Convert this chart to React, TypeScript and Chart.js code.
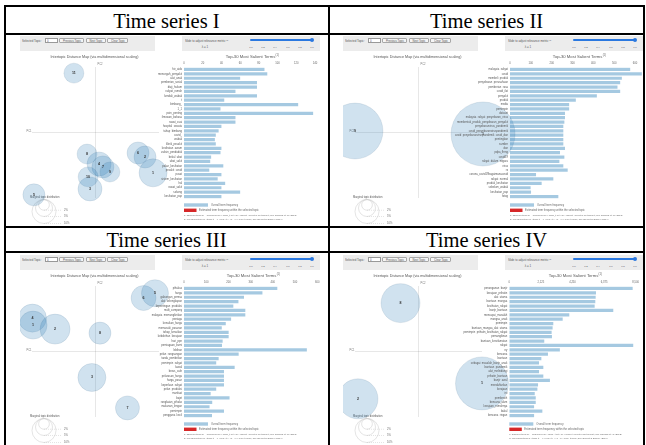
import React, { useEffect, useRef } from 'react';
import { Chart, registerables } from 'chart.js';

Chart.register(...registerables);

const SANS = "'Liberation Sans', Arial, Helvetica, sans-serif";
const SERIF = "'Liberation Serif', 'Times New Roman', Times, serif";

// ---------------- Time series I ----------------
const terms1 = ['hiv_aids', 'mencegah_penyakit', 'alat_anak', 'pemberian_sosial', 'diuji_hukum', 'rakyat_rumah', 'kendali_wabak', 't', 'bimbang_', '1_1', 'poin_penting', 'ilmuwan_bahasa', 'rawat_cuai', 'hospital_swasta', 'tahap_bimbang', 'covid_', 'wabak', 'klinik_pesakit', 'kesihatan_awam', 'vaksin_penduduk', 'bekal_ubat', 'ubat_sakit', 'pakar_kesihatan', 'pesakit_covid', 'pusat', 'sistem_kesihatan', 'hal', 'rawat_sakit', 'sokong', 'kesihatan_pap'];
const freq1 = [86, 89, 60, 78, 78, 55, 78, 43, 122, 39, 138, 55, 55, 40, 37, 34, 33, 34, 40, 39, 29, 28, 42, 27, 40, 36, 44, 40, 60, 40];
const topics1 = ['11', '8', '4', '7', '9', '10', '3', '6', '2', '1', '5'];
const pcx1 = [-0.102, -0.04, 0.017, 0.035, 0.068, -0.035, -0.026, 0.201, 0.234, 0.272, -0.291];
const pcy1 = [0.281, -0.102, -0.149, -0.163, -0.187, -0.21, -0.267, -0.097, -0.116, -0.191, -0.295];
const share1 = [6.9, 6.9, 10, 8.4, 6.9, 6.9, 10, 8.4, 8.4, 13.6, 8.4];

// ---------------- Time series II ----------------
const terms2 = ['malaysia_rakyat', 'covid', 'membeli_produk', 'penyebaran_perusahaan', 'pemberian_rasa', 'covid_ilat', 'penyakit', 'produk', 'media', 'pemimpin', 'dataset', 'malaysia_rakyat_penyebaran_virus', 'membentuk_produk_penyebaran_penyakit', 'penyebaranvirus_pandemik', 'covid_penyebaranviruspandemik', 'covid_penyebaranviruspandemik_covid_dan', 'pentingkan', 'sumber', 'dan', 'pdpa_fhrng', 'covid19', 'rakyat_dalam_negara', 'virus', 'rz', 'corona_covid19bagaimanacovid', 'rakyat_normal', 'produk_kesihatan', 'sebelum_wabak', 'kesihatan_pap', 'fotog'];
const freq2 = [577, 633, 537, 529, 516, 529, 417, 316, 284, 284, 264, 264, 261, 256, 256, 256, 256, 256, 264, 240, 261, 237, 256, 277, 125, 208, 152, 99, 101, 232];
const topics2 = ['9', '1'];
const pcx2 = [-0.3, 0.305];
const pcy2 = [0.007, -0.007];
const share2 = [54, 71];

// ---------------- Time series III ----------------
const terms3 = ['pihakas', 'harga', 'gabungan_pemsa', 'alat_kelengkapan', 'kepentingan_produksi', 'multi_company', 'malaysia_memungkinkan', 'peniaga', 'kenaikan_harga', 'memasuki_pasaran', 'tahap_kenaikan', 'kebolehan_kerajaan', 'hari_ppn', 'perniagaan_bumi', 'lebihan', 'pelan_rangsangan', 'tanda_pembelian', 'pemimpin_rakyat', 'kawal', 'beras_cafe', 'pelarasan_harga', 'harga_pasar', 'keperluan_rakyat', 'pelan_produksi', 'manfaat', 'bajet', 'rangkaian_pihako', 'makanan_lengan', 'pemimpin', 'pengguna_kecil'];
const freq3 = [420, 353, 270, 245, 222, 276, 276, 212, 188, 170, 201, 201, 174, 171, 553, 246, 156, 145, 228, 180, 180, 180, 180, 145, 120, 205, 127, 115, 180, 126];
const topics3 = ['6', '5', '4', '1', '2', '8', '3', '7'];
const pcx3 = [0.227, 0.281, -0.298, -0.295, -0.191, 0.021, -0.017, 0.151];
const pcy3 = [0.253, 0.276, 0.158, 0.125, 0.106, 0.087, -0.123, -0.267];
const share3 = [10.8, 12.6, 13.6, 13.6, 15.6, 8.4, 13.6, 10];

// ---------------- Time series IV ----------------
const terms4 = ['penanganan_banjir', 'kerajaan_prihatin', 'alat_utama', 'bantuan_mangsa', 'kesihatan_rakyat', 'banjir_bantuan', 'mencapai_masalah', 'mangsa_anak', 'pemimpin', 'bantuan_mangsa_alat_utama', 'pemimpin_prihatin_kesihatan_rakyat', 'pemangkinan', 'bantuan_keselamatan', 'rakyat', 'ny', 'bencana', 'bantuan', 'sebagai_masalah_banjir_anak', 'bantuan_pandemik', 'alat_melindungi', 'prihatin_bantuan', 'banjir_awal', 'mendaftarkan', 'kerajaan', 'ini', 'pembersih', 'bencana_alam', 'kerajaan_rumahnya', 'bakal', 'bencana_ringan'];
const freq4 = [8296, 5829, 5807, 5784, 5740, 6992, 4034, 3590, 2958, 2913, 2846, 2868, 2350, 8333, 3400, 2600, 2156, 2000, 2289, 2000, 2289, 2733, 1933, 1889, 1711, 1778, 1778, 1667, 2222, 1667];
const topics4 = ['8', '1', '2'];
const pcx4 = [-0.085, 0.3, -0.286];
const pcy4 = [0.229, -0.151, -0.224];
const share4 = [26.3, 48.6, 27.7];

const panelTitles = ['Time series I', 'Time series II', 'Time series III', 'Time series IV'];
const sliderTicks = ['0.0', '0.2', '0.4', '0.6', '0.8', '1.0'];
const legendPcts = [2, 5, 10];

// ---------------- styles / layout ----------------
const BAR_BLUE = 'rgba(31,119,180,0.4)';
const BAR_RED = '#d62728';
const R_PER_SQRT_PCT = 3.8;
const BUB = { x: 14, y: 18, w: 186, h: 174, areaL: 26, areaR: 153, areaT: 33, areaB: 164 };
const BAR = { x: 96, y: 18, bandT: 33.3, bandB: 164.7, bottom: 192 };

const font = (size: number, weight = 'normal') => `${weight} ${size}px ${SANS}`;

function Txt({ x, y, size, align = 'left', color = '#444', children, weight }: any) {
  const tx = align === 'center' ? '-50%' : align === 'right' ? '-100%' : '0';
  return (
    <div style={{ position: 'absolute', left: x, top: y, width: 0, height: 0, transform: `scale(${size / 10})`, transformOrigin: '0 0' }}>
      <div style={{ position: 'absolute', left: 0, top: 0, fontSize: 10, lineHeight: '10px', whiteSpace: 'nowrap', transform: `translate(${tx}, -50%)`, color, fontFamily: SANS, fontWeight: weight || 'normal' }}>
        {children}
      </div>
    </div>
  );
}

function Controls() {
  const btn = (x: number, w: number, label: string) => (
    <React.Fragment key={label}>
      <div style={{ position: 'absolute', left: x, top: 3.8, width: w, height: 5.6, background: '#f6f6f6', border: '0.5px solid #a8a8a8', borderRadius: 1, boxSizing: 'border-box' }} />
      <Txt x={x + w / 2} y={6.6} size={2.8} align="center" color="#555">{label}</Txt>
    </React.Fragment>
  );
  return (
    <>
      <div style={{ position: 'absolute', left: 14, top: 2, width: 135, height: 15, background: '#ececec' }} />
      <Txt x={16} y={6.6} size={2.9} color="#555">Selected Topic:</Txt>
      <div style={{ position: 'absolute', left: 39, top: 3.8, width: 13, height: 5.6, background: '#fff', border: '0.5px solid #999', boxSizing: 'border-box' }} />
      <Txt x={41} y={6.6} size={2.8} color="#555">0</Txt>
      {btn(53, 25, 'Previous Topic')}
      {btn(80, 20, 'Next Topic')}
      {btn(101, 21, 'Clear Topic')}
      <div style={{ position: 'absolute', left: 176, top: 2, width: 138, height: 15, background: '#ececec' }} />
      <Txt x={179} y={6.7} size={2.9} color="#555">Slide to adjust relevance metric:<sup style={{ fontSize: 6 }}>(2)</sup></Txt>
      <Txt x={199} y={12.7} size={2.9} align="center" color="#555">λ = 1</Txt>
      <div style={{ position: 'absolute', left: 244, top: 5.4, width: 62, height: 1.3, background: '#2a78e0', borderRadius: 1 }} />
      <div style={{ position: 'absolute', left: 304, top: 3.8, width: 4.2, height: 4.2, borderRadius: '50%', background: '#2a78e0' }} />
      {sliderTicks.map((t, i) => (
        <Txt key={t} x={245 + i * 12.2} y={12.7} size={2.5} align="center" color="#555">{t}</Txt>
      ))}
    </>
  );
}

function Panel(p: any) {
  const bubRef = useRef<HTMLCanvasElement>(null);
  const barRef = useRef<HTMLCanvasElement>(null);
  const barW = Math.ceil(p.axisRight + 9 - BAR.x);
  const barH = BAR.bottom - BAR.y;

  useEffect(() => {
    const bubbleDecor = {
      id: 'bubbleDecor',
      beforeDatasetsDraw(chart: any) {
        const { ctx, chartArea: a, scales } = chart;
        const x0 = scales.x.getPixelForValue(0);
        const y0 = scales.y.getPixelForValue(0);
        ctx.save();
        ctx.strokeStyle = 'rgba(0,0,0,0.16)';
        ctx.lineWidth = 0.6;
        ctx.beginPath();
        ctx.moveTo(x0, a.top);
        ctx.lineTo(x0, a.bottom);
        ctx.moveTo(a.left, y0);
        ctx.lineTo(a.right, y0);
        ctx.stroke();
        ctx.fillStyle = '#777';
        ctx.font = font(2.6);
        ctx.textBaseline = 'middle';
        ctx.textAlign = 'right';
        ctx.fillText('PC1', a.left - 0.5, y0 - 1.6);
        ctx.textAlign = 'left';
        ctx.fillText('PC2', x0 + 2, a.top - 2.5);
        ctx.fillStyle = '#555';
        ctx.font = font(3.7);
        ctx.textAlign = 'center';
        ctx.fillText('Intertopic Distance Map (via multidimensional scaling)', 88.5 - BUB.x, 23 - BUB.y);
        // marginal topic distribution legend
        const cxL = 38 - BUB.x;
        const topL = 165.5 - BUB.y;
        const rs = legendPcts.map((v) => R_PER_SQRT_PCT * Math.sqrt(v));
        const rMax = rs[rs.length - 1];
        ctx.strokeStyle = '#c8c8c8';
        ctx.lineWidth = 0.5;
        rs.forEach((r) => {
          ctx.beginPath();
          ctx.arc(cxL, topL + r, r, 0, Math.PI * 2);
          ctx.stroke();
        });
        ctx.setLineDash([1, 1]);
        ctx.beginPath();
        rs.forEach((r) => {
          ctx.moveTo(cxL, topL + 2 * r);
          ctx.lineTo(cxL + rMax + 6, topL + 2 * r);
        });
        ctx.stroke();
        ctx.setLineDash([]);
        ctx.fillStyle = '#666';
        ctx.font = font(2.6);
        ctx.textAlign = 'left';
        rs.forEach((r, i) => ctx.fillText(`${legendPcts[i]}%`, cxL + rMax + 8, topL + 2 * r));
        ctx.fillStyle = '#555';
        ctx.fillText('Marginal topic distribution', 24 - BUB.x, 163.5 - BUB.y);
        ctx.restore();
      },
      afterDatasetsDraw(chart: any) {
        const { ctx } = chart;
        const meta = chart.getDatasetMeta(0);
        ctx.save();
        ctx.fillStyle = '#333';
        ctx.font = font(3.6, 'bold');
        ctx.textAlign = 'center';
        ctx.textBaseline = 'middle';
        meta.data.forEach((el: any, i: number) => ctx.fillText(p.topics[i], el.x, el.y));
        ctx.restore();
      },
    };

    const bubble = new Chart(bubRef.current as HTMLCanvasElement, {
      type: 'bubble',
      data: {
        datasets: [
          {
            data: p.tx.map((x: number, i: number) => ({ x, y: p.ty[i], r: R_PER_SQRT_PCT * Math.sqrt(p.share[i]) })),
            backgroundColor: 'rgba(31,119,180,0.21)',
            borderColor: 'rgba(40,80,120,0.22)',
            borderWidth: 0.5,
            clip: false as any,
          },
        ],
      },
      options: {
        responsive: false,
        animation: false,
        events: [],
        layout: {
          autoPadding: false,
          padding: { left: BUB.areaL - BUB.x, right: BUB.x + BUB.w - BUB.areaR, top: BUB.areaT - BUB.y, bottom: BUB.y + BUB.h - BUB.areaB },
        },
        plugins: { legend: { display: false }, tooltip: { enabled: false } },
        scales: {
          x: { type: 'linear', display: false, min: -0.3, max: 0.3 },
          y: { type: 'linear', display: false, min: -0.31, max: 0.31 },
        },
      } as any,
      plugins: [bubbleDecor],
    });

    const barDecor = {
      id: 'barDecor',
      afterDraw(chart: any) {
        const { ctx, chartArea: a } = chart;
        const toY = (ry: number) => ry - BAR.y;
        ctx.save();
        const mid = (a.left + a.right) / 2 + 1;
        ctx.fillStyle = '#555';
        ctx.font = font(4.2);
        ctx.textAlign = 'center';
        ctx.textBaseline = 'middle';
        const title = 'Top-30 Most Salient Terms';
        ctx.fillText(title, mid, toY(23));
        const tw = ctx.measureText(title).width;
        ctx.font = font(2.6);
        ctx.textAlign = 'left';
        ctx.fillText('(1)', mid + tw / 2 + 0.3, toY(21.4));
        const L = a.left;
        ctx.fillStyle = BAR_BLUE;
        ctx.fillRect(L, toY(169.3), 24, 3.4);
        ctx.fillStyle = BAR_RED;
        ctx.fillRect(L, toY(174.6), 12.5, 3.4);
        ctx.fillStyle = '#666';
        ctx.font = font(2.7);
        ctx.fillText('Overall term frequency', L + 27, toY(171));
        ctx.fillText('Estimated term frequency within the selected topic', L + 15, toY(176.3));
        ctx.font = font(2.4);
        ctx.fillText('1. saliency(term w) = frequency(w) * [sum_t p(t | w) * log(p(t | w)/p(t))] for topics t; see Chuang et. al (2012)', L, toY(181.6));
        ctx.fillText('2. relevance(term w | topic t) = \u03bb * p(w | t) + (1 - \u03bb) * p(w | t)/p(w); see Sievert & Shirley (2014)', L, toY(185.8));
        ctx.restore();
      },
    };

    const bar = new Chart(barRef.current as HTMLCanvasElement, {
      type: 'bar',
      data: {
        labels: p.terms,
        datasets: [{ data: p.freq, backgroundColor: BAR_BLUE, barPercentage: 0.74, categoryPercentage: 1 }],
      },
      options: {
        indexAxis: 'y',
        responsive: false,
        animation: false,
        events: [],
        layout: {
          autoPadding: false,
          padding: { left: 0, top: 0, right: BAR.x + barW - p.axisRight, bottom: BAR.bottom - BAR.bandB },
        },
        plugins: { legend: { display: false }, tooltip: { enabled: false } },
        scales: {
          x: {
            type: 'linear',
            position: 'top',
            min: 0,
            max: p.axisMax,
            ticks: { stepSize: p.axisStep, includeBounds: false, font: { family: SANS, size: 2.7 }, color: '#666', padding: 2, maxRotation: 0, autoSkip: false },
            grid: { display: false, drawTicks: false },
            border: { display: false },
            afterFit: (s: any) => { s.height = BAR.bandT - BAR.y; },
          },
          y: {
            type: 'category',
            ticks: { font: { family: SANS, size: 2.7 }, color: '#555', padding: 2, autoSkip: false },
            grid: { display: false, drawTicks: false },
            border: { display: false },
            afterFit: (s: any) => { s.width = p.axisLeft - BAR.x; },
          },
        },
      } as any,
      plugins: [barDecor],
    });

    return () => {
      bubble.destroy();
      bar.destroy();
    };
  }, []);

  return (
    <div style={{ position: 'absolute', left: p.left, top: p.top, width: p.width, height: 192, overflow: 'hidden', background: '#fff' }}>
      <Controls />
      <canvas ref={bubRef} width={BUB.w} height={BUB.h} style={{ position: 'absolute', left: BUB.x, top: BUB.y, width: BUB.w, height: BUB.h }} />
      <canvas ref={barRef} width={barW} height={barH} style={{ position: 'absolute', left: BAR.x, top: BAR.y, width: barW, height: barH }} />
    </div>
  );
}

function Line({ l, t, w, h }: any) {
  return <div style={{ position: 'absolute', left: l, top: t, width: w, height: h, background: '#000' }} />;
}

function Title({ cx, top, children }: any) {
  return (
    <div style={{ position: 'absolute', left: cx - 100, width: 200, top, textAlign: 'center', fontFamily: SERIF, fontSize: 20.5, lineHeight: '20.5px', color: '#000', whiteSpace: 'nowrap' }}>
      {children}
    </div>
  );
}

export default function App() {
  return (
    <div style={{ position: 'absolute', left: 0, top: 0, width: 646, height: 445, background: '#fff', overflow: 'hidden' }}>
      <Title cx={166.5} top={10.8}>{panelTitles[0]}</Title>
      <Title cx={486.5} top={10.8}>{panelTitles[1]}</Title>
      <Title cx={166.5} top={230.3}>{panelTitles[2]}</Title>
      <Title cx={486.5} top={230.3}>{panelTitles[3]}</Title>

      <Panel left={6} top={34} width={322} terms={terms1} freq={freq1} axisMax={140} axisStep={20} axisLeft={178} axisRight={309} topics={topics1} tx={pcx1} ty={pcy1} share={share1} />
      <Panel left={329} top={34} width={314} terms={terms2} freq={freq2} axisMax={640} axisStep={100} axisLeft={181} axisRight={314.3} topics={topics2} tx={pcx2} ty={pcy2} share={share2} />
      <Panel left={6} top={253} width={322} terms={terms3} freq={freq3} axisMax={600} axisStep={100} axisLeft={178} axisRight={311.3} topics={topics3} tx={pcx3} ty={pcy3} share={share3} />
      <Panel left={329} top={253} width={314} terms={terms4} freq={freq4} axisMax={8500} axisStep={2000} axisLeft={180.3} axisRight={306.7} topics={topics4} tx={pcx4} ty={pcy4} share={share4} />

      <Line l={4} t={5} w={641} h={2} />
      <Line l={4} t={32.5} w={641} h={2} />
      <Line l={4} t={225.5} w={641} h={2} />
      <Line l={4} t={251.3} w={641} h={2} />
      <Line l={4} t={5} w={2} h={440} />
      <Line l={327.8} t={5} w={2} h={440} />
      <Line l={643} t={5} w={2} h={440} />
    </div>
  );
}
